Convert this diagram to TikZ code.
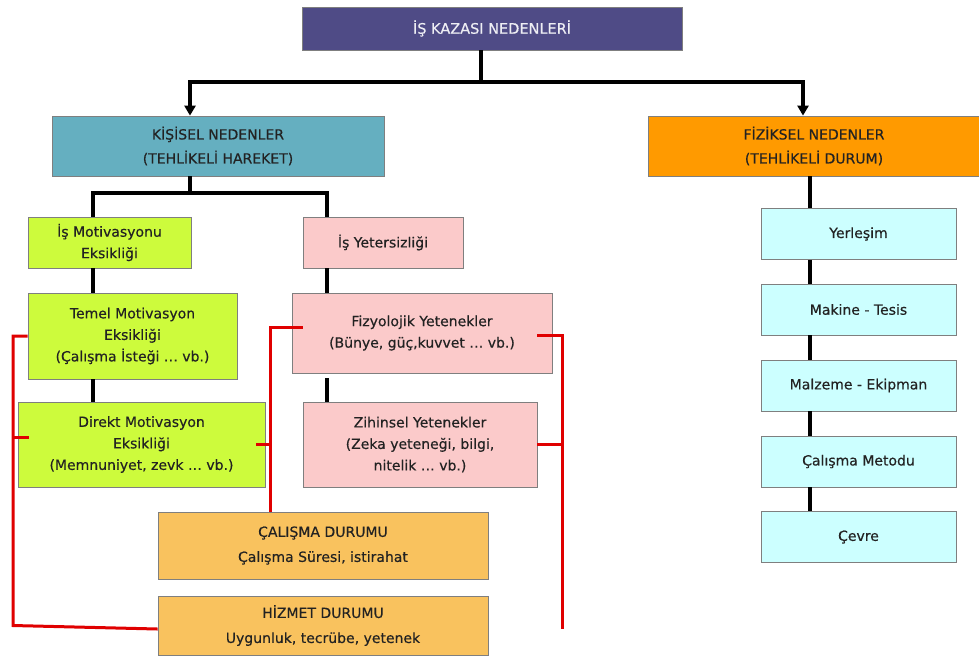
\documentclass[tikz,border=0pt]{standalone}
\usepackage{fontspec}
\setmainfont{DejaVu Sans}[FakeBold=0.4]
\usetikzlibrary{arrows.meta}
\definecolor{edge}{HTML}{7F7F7F}
\definecolor{ink}{HTML}{222222}
\definecolor{titlefill}{HTML}{4F4B86}
\definecolor{titleink}{HTML}{EEEEF4}
\definecolor{personal}{HTML}{65AFC0}
\definecolor{physical}{HTML}{FF9A00}
\definecolor{lime}{HTML}{CDFB3C}
\definecolor{rose}{HTML}{FBCACA}
\definecolor{sand}{HTML}{F9C25E}
\definecolor{aqua}{HTML}{CCFFFF}
\definecolor{redline}{HTML}{E00000}
\begin{document}
\begin{tikzpicture}[x=1pt,y=-1pt,
  box/.style={draw=edge, line width=0.8pt, inner sep=0pt, align=center,
    text=ink, font=\fontsize{14}{21.5}\selectfont},
  blk/.style={line width=4pt, black},
  redl/.style={line width=3pt, redline}]
\useasboundingbox (0,0) rectangle (979,657);

% --- boxes ---
\node[box, fill=titlefill, text=titleink, minimum width=380pt, minimum height=43pt, font=\fontsize{14.5}{21}\selectfont] (top) at (492,28.5) {İŞ KAZASI NEDENLERİ};
\node[box, fill=personal, minimum width=332pt, minimum height=60pt, font=\fontsize{14}{24}\selectfont] (kis) at (218,146) {KİŞİSEL NEDENLER\\(TEHLİKELİ HAREKET)};
\node[box, fill=physical, minimum width=332pt, minimum height=60pt, font=\fontsize{14}{24}\selectfont] (fiz) at (814,146) {FİZİKSEL NEDENLER\\(TEHLİKELİ DURUM)};

\node[box, fill=lime, minimum width=163pt, minimum height=51pt] (ism) at (109.5,242.5) {İş Motivasyonu\\Eksikliği};
\node[box, fill=lime, minimum width=209pt, minimum height=86pt] (tem) at (132.5,336) {Temel Motivasyon\\Eksikliği\\(Çalışma İsteği … vb.)};
\node[box, fill=lime, minimum width=247pt, minimum height=85pt] (dir) at (141.5,444.5) {Direkt Motivasyon\\Eksikliği\\(Memnuniyet, zevk … vb.)};

\node[box, fill=rose, minimum width=160pt, minimum height=51pt] (isy) at (383,242.5) {İş Yetersizliği};
\node[box, fill=rose, minimum width=260pt, minimum height=80pt] (fzy) at (422,333) {Fizyolojik Yetenekler\\(Bünye, güç,kuvvet … vb.)};
\node[box, fill=rose, minimum width=234pt, minimum height=85pt] (zih) at (420,444.5) {Zihinsel Yetenekler\\(Zeka yeteneği, bilgi,\\nitelik … vb.)};

\node[box, fill=sand, minimum width=330pt, minimum height=67pt, font=\fontsize{14}{25}\selectfont] (cal) at (323,545.5) {ÇALIŞMA DURUMU\\Çalışma Süresi, istirahat};
\node[box, fill=sand, minimum width=330pt, minimum height=59pt, font=\fontsize{14}{25}\selectfont] (hiz) at (323,625.5) {HİZMET DURUMU\\Uygunluk, tecrübe, yetenek};

\node[box, fill=aqua, minimum width=195pt, minimum height=51pt] (yer) at (858.5,234) {Yerleşim};
\node[box, fill=aqua, minimum width=195pt, minimum height=51pt] (mak) at (858.5,309.5) {Makine - Tesis};
\node[box, fill=aqua, minimum width=195pt, minimum height=51pt] (mal) at (858.5,385.5) {Malzeme - Ekipman};
\node[box, fill=aqua, minimum width=195pt, minimum height=51pt] (met) at (858.5,461.5) {Çalışma Metodu};
\node[box, fill=aqua, minimum width=195pt, minimum height=51pt] (cev) at (858.5,537) {Çevre};

% --- guide columns and rows for the connectors ---
\coordinate (cT) at (481,0);
\coordinate (cK) at (190,0);
\coordinate (cF) at (803,0);
\coordinate (cA) at (93,0);
\coordinate (cB) at (327,0);
\coordinate (cR) at (810,0);
\coordinate (h1) at (0,82);
\coordinate (h2) at (0,193);
\coordinate (rl) at (13,0);
\coordinate (rm) at (270,0);
\coordinate (rr) at (562,0);
\coordinate (rend) at (562,629);

% --- stub ends of the red links ---
\coordinate (dirW) at ([xshift=11pt,yshift=7pt]dir.west);
\coordinate (dirE) at ([xshift=-9pt]dir.east);
\coordinate (fzyW) at ([xshift=11pt,yshift=6pt]fzy.west);
\coordinate (fzyE) at ([xshift=-15pt,yshift=-2pt]fzy.east);

% --- black tree connectors ---
\draw[blk] (top.south -| cT) -- (cT |- h1);
\draw[blk, {Triangle[length=10pt,width=11pt]}-{Triangle[length=10pt,width=11pt]}]
  (kis.north -| cK) |- (cF |- h1) -- (fiz.north -| cF);
\draw[blk] (kis.south -| cK) -- (cK |- h2);
\draw[blk] (ism.north -| cA) -- (cA |- h2) -- (cB |- h2) -- (isy.north -| cB);
\draw[blk] (ism.south -| cA) -- (tem.north -| cA);
\draw[blk] (tem.south -| cA) -- (dir.north -| cA);
\draw[blk] (isy.south -| cB) -- (fzy.north -| cB);
\draw[blk] ([yshift=-5pt]fzy.south -| cB) -- (zih.north -| cB);
\draw[blk] (fiz.south -| cR) -- (yer.north -| cR);
\draw[blk] (yer.south -| cR) -- (mak.north -| cR);
\draw[blk] (mak.south -| cR) -- (mal.north -| cR);
\draw[blk] (mal.south -| cR) -- (met.north -| cR);
\draw[blk] (met.south -| cR) -- (cev.north -| cR);

% --- red links between the factors ---
\draw[redl] (tem.west) -- (rl |- tem.west) -- (rl |- hiz.west) -- (hiz.west |- rend);
\draw[redl] (dirW) -- (dirW -| rl);
\draw[redl] (fzyW) -- (fzyW -| rm) -- (rm |- cal.north);
\draw[redl] (dirE) -- (dirE -| rm);
\draw[redl] (fzyE) -- (fzyE -| rr) -- (rend);
\draw[redl] (zih.east) -- (zih.east -| rr);
\end{tikzpicture}
\end{document}
